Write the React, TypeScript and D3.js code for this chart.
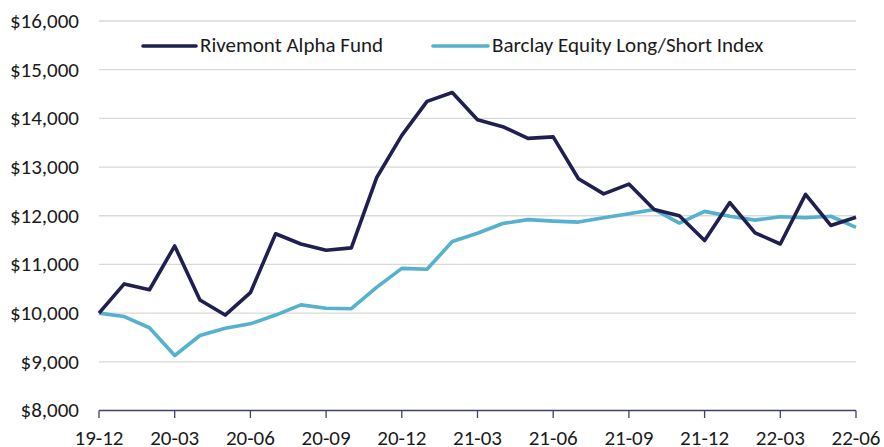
import React, { useEffect, useMemo } from "react";
import * as d3 from "d3";

const width = 884;
const height = 447;

const months = [
  "19-12", "20-01", "20-02", "20-03", "20-04", "20-05", "20-06", "20-07",
  "20-08", "20-09", "20-10", "20-11", "20-12", "21-01", "21-02", "21-03",
  "21-04", "21-05", "21-06", "21-07", "21-08", "21-09", "21-10", "21-11",
  "21-12", "22-01", "22-02", "22-03", "22-04", "22-05", "22-06",
];

const tickLabels = [
  "19-12", "20-03", "20-06", "20-09", "20-12", "21-03",
  "21-06", "21-09", "21-12", "22-03", "22-06",
];

const yTicks = [8000, 9000, 10000, 11000, 12000, 13000, 14000, 15000, 16000];

const rivemont = [
  10000, 10600, 10480, 11380, 10270, 9960, 10420, 11630, 11420, 11290, 11340,
  12780, 13650, 14350, 14530, 13970, 13830, 13590, 13620, 12760, 12450, 12650,
  12130, 12000, 11490, 12270, 11650, 11420, 12440, 11800, 11970,
];

const barclay = [
  10000, 9930, 9700, 9130, 9540, 9690, 9780, 9960, 10170, 10100, 10090,
  10530, 10920, 10900, 11470, 11640, 11840, 11920, 11890, 11870, 11960, 12040,
  12130, 11850, 12090, 11990, 11910, 11980, 11960, 11990, 11760,
];

const seriesNames = ["Rivemont Alpha Fund", "Barclay Equity Long/Short Index"];
const darkColor = "#1f1f50";
const lightColor = "#55b1cc";
const axisColor = "#40406c";

const font = "Carlito, Calibri, 'Liberation Sans', sans-serif";

const App = () => {
  useEffect(() => {
    document.body.style.margin = "0";
  }, []);

  const x = useMemo(
    () => d3.scalePoint<string>().domain(months).range([99, 856]),
    []
  );
  const y = useMemo(
    () => d3.scaleLinear().domain([8000, 16000]).range([410.5, 21]),
    []
  );

  const line = d3
    .line<number>()
    .x((_, i) => x(months[i])!)
    .y((d) => y(d));

  const fmt = d3.format("$,");

  return (
    <svg width={width} height={height} style={{ display: "block" }}>
      <g>
        {yTicks.slice(1).map((t) => (
          <line
            key={t}
            x1={99}
            x2={856}
            y1={y(t)}
            y2={y(t)}
            stroke="#d9d9d9"
            strokeWidth={1.3}
          />
        ))}
        {yTicks.map((t) => (
          <text
            key={t}
            x={79}
            y={y(t)}
            dy="0.33em"
            textAnchor="end"
            fontFamily={font}
            fontSize={21}
            fill="#1a1a1a"
          >
            {fmt(t)}
          </text>
        ))}
      </g>
      <g>
        <line x1={99} x2={856} y1={y(8000)} y2={y(8000)} stroke={axisColor} strokeWidth={1.3} />
        {tickLabels.map((m) => (
          <g key={m} transform={`translate(${x(m)},0)`}>
            <line y1={y(8000)} y2={418} stroke={axisColor} strokeWidth={1.3} />
            <text
              y={445}
              textAnchor="middle"
              fontFamily={font}
              fontSize={21}
              fill="#1a1a1a"
            >
              {m}
            </text>
          </g>
        ))}
      </g>
      <path d={line(barclay)!} fill="none" stroke={lightColor} strokeWidth={3.6} strokeLinejoin="round" />
      <path d={line(rivemont)!} fill="none" stroke={darkColor} strokeWidth={3.6} strokeLinejoin="round" />
      <g fontFamily={font} fontSize={21} fill="#1a1a1a">
        <line x1={143} x2={196} y1={46} y2={46} stroke={darkColor} strokeWidth={3.6} strokeLinecap="round" />
        <text x={200} y={52}>{seriesNames[0]}</text>
        <line x1={433} x2={488} y1={46} y2={46} stroke={lightColor} strokeWidth={3.6} strokeLinecap="round" />
        <text x={492} y={52}>{seriesNames[1]}</text>
      </g>
    </svg>
  );
};

export default App;
